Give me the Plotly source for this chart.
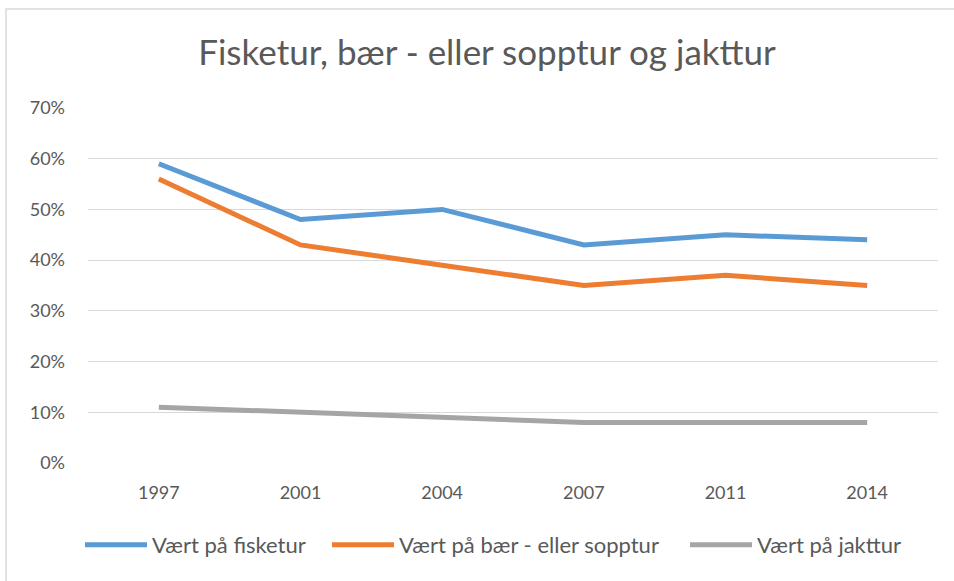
import plotly.graph_objects as go

years = ["1997", "2001", "2004", "2007", "2011", "2014"]
fisketur = [0.59, 0.48, 0.50, 0.43, 0.45, 0.44]
baer_sopp = [0.56, 0.43, 0.39, 0.35, 0.37, 0.35]
jakttur = [0.11, 0.10, 0.09, 0.08, 0.08, 0.08]

series_names = ["Vært på fisketur", "Vært på bær - eller sopptur", "Vært på jakttur"]
colors = ["#5B9BD5", "#ED7D31", "#A5A5A5"]
legend_ids = ["legend", "legend2", "legend3"]
legend_left_px = [85, 332, 690]  # left edge of each legend entry in page px

FONT = "Lato, 'Open Sans', sans-serif"
TXT = "#595959"

fig = go.Figure()
for name, vals, col, lg in zip(series_names, [fisketur, baer_sopp, jakttur], colors, legend_ids):
    fig.add_trace(go.Scatter(
        x=years, y=vals, name=name, mode="lines", legend=lg,
        line=dict(color=col, width=5, shape="linear"),
    ))

L, T, PW, PH = 88, 108, 850, 355  # plot area in px

legend_common = dict(orientation="h", xanchor="left", yanchor="middle",
                     y=-82 / PH, font=dict(size=22, color=TXT), itemwidth=62,
                     bgcolor="rgba(0,0,0,0)")
legends = {}
for lg, px in zip(legend_ids, legend_left_px):
    legends[lg] = dict(legend_common, x=(px - 5 - L) / PW)

fig.update_layout(
    width=954, height=581,
    paper_bgcolor="white", plot_bgcolor="white",
    margin=dict(l=L, r=954 - L - PW, t=T, b=581 - T - PH),
    title=dict(text="Fisketur, bær - eller sopptur og jakttur",
               x=487 / 954, xanchor="center", y=1 - 53 / 581, yanchor="middle",
               font=dict(family=FONT, size=35, color=TXT)),
    font=dict(family=FONT, color=TXT, size=18),
    showlegend=True,
    xaxis=dict(type="category", range=[-0.5, 5.5], showgrid=False, showline=False, ticks="",
               tickfont=dict(size=18, color=TXT), ticklabelstandoff=17),
    yaxis=dict(range=[0, 0.7], dtick=0.1, tickformat=".0%",
               showgrid=True, gridcolor="#D9D9D9", gridwidth=1,
               zeroline=False, showline=False, ticks="",
               tickfont=dict(size=18, color=TXT), ticklabelstandoff=22),
    **legends,
)

fig.add_shape(type="rect", xref="paper", yref="paper",
              x0=(6 - L) / PW, x1=1 + 40 / PW, y0=-130 / PH, y1=(T + PH - 9) / PH,
              line=dict(color="#D9D9D9", width=1.5), fillcolor="rgba(0,0,0,0)",
              layer="below")

fig.write_html("out.html", config={"displayModeBar": False},
               post_script="document.body.style.margin='0';document.body.style.overflow='hidden';")
